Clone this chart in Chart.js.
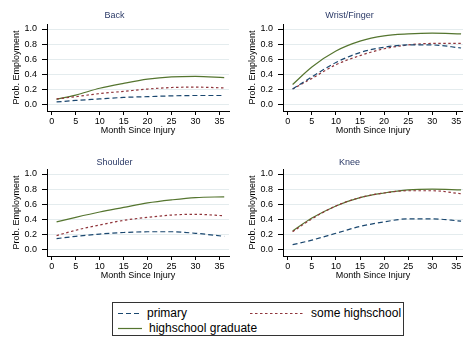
<!DOCTYPE html>
<html>
<head>
<meta charset="utf-8">
<script src="https://cdn.jsdelivr.net/npm/chart.js@4.4.1/dist/chart.umd.min.js"></script>
<style>
  html, body { margin: 0; padding: 0; background: #fff; }
  #wrap { position: relative; width: 463px; height: 337px; overflow: hidden; font-family: "Liberation Sans", Arial, sans-serif; }
  .panel { position: absolute; }
  #legend { position: absolute; left: 112px; top: 302px; width: 290px; height: 32px; border: 1px solid #333; box-sizing: content-box; }
  .key { position: absolute; font-size: 12px; color: #000; line-height: 14px; white-space: nowrap; }
  .key svg { position: absolute; left: 0; top: 0; }
</style>
</head>
<body>
<div id="wrap">
  <div class="panel" style="left:0;top:0;width:231px;height:140px"><canvas id="c0"></canvas></div>
  <div class="panel" style="left:236px;top:0;width:227px;height:140px"><canvas id="c1"></canvas></div>
  <div class="panel" style="left:0;top:145px;width:231px;height:140px"><canvas id="c2"></canvas></div>
  <div class="panel" style="left:236px;top:145px;width:227px;height:140px"><canvas id="c3"></canvas></div>
  <div id="legend"></div>
</div>
<script>
const months = [1, 5, 10, 15, 20, 25, 30, 36];

const panelTitles = ["Back", "Wrist/Finger", "Shoulder", "Knee"];
const seriesNames = ["primary", "some highschool", "highschool graduate"];

const backPrimary   = [0.04, 0.06, 0.08, 0.10, 0.11, 0.12, 0.125, 0.125];
const backSomeHs    = [0.08, 0.11, 0.15, 0.18, 0.21, 0.23, 0.235, 0.225];
const backGrad      = [0.075, 0.13, 0.22, 0.285, 0.34, 0.37, 0.377, 0.36];

const wristPrimary  = [0.21, 0.37, 0.56, 0.69, 0.76, 0.79, 0.79, 0.75];
const wristSomeHs   = [0.21, 0.35, 0.53, 0.65, 0.74, 0.79, 0.81, 0.81];
const wristGrad     = [0.27, 0.50, 0.71, 0.84, 0.91, 0.935, 0.945, 0.935];

const shoulderPrimary = [0.15, 0.18, 0.21, 0.23, 0.24, 0.24, 0.22, 0.18];
const shoulderSomeHs  = [0.19, 0.26, 0.33, 0.39, 0.43, 0.46, 0.47, 0.45];
const shoulderGrad    = [0.37, 0.43, 0.50, 0.56, 0.62, 0.66, 0.69, 0.70];

const kneePrimary   = [0.07, 0.13, 0.22, 0.31, 0.37, 0.41, 0.41, 0.38];
const kneeSomeHs    = [0.24, 0.41, 0.58, 0.69, 0.75, 0.78, 0.78, 0.74];
const kneeGrad      = [0.25, 0.42, 0.58, 0.69, 0.75, 0.79, 0.80, 0.79];

const xTicks = [0, 5, 10, 15, 20, 25, 30, 35];
const yTicks = [0, 0.2, 0.4, 0.6, 0.8, 1.0];

const panelData = [
  [backPrimary, backSomeHs, backGrad],
  [wristPrimary, wristSomeHs, wristGrad],
  [shoulderPrimary, shoulderSomeHs, shoulderGrad],
  [kneePrimary, kneeSomeHs, kneeGrad],
];

// Stata s2color-ish styling
const colors = ["#1a476f", "#90353b", "#55752f"];
const dashes = [[5, 3], [2.5, 2.5], []];
const FONT = "'Liberation Sans', Arial, sans-serif";

function makeChart(id, idx, xMax, w, bottomRow) {
  const canvas = document.getElementById(id);
  canvas.width = w;
  canvas.height = 140;
  canvas.style.width = w + "px";
  canvas.style.height = "140px";
  const datasets = panelData[idx].map((vals, i) => ({
    label: seriesNames[i],
    data: months.map((m, k) => ({ x: m, y: vals[k] })),
    borderColor: colors[i],
    borderDash: dashes[i],
    borderWidth: 1.2,
    pointRadius: 0,
    fill: false,
    cubicInterpolationMode: "monotone",
  }));
  return new Chart(canvas.getContext("2d"), {
    type: "line",
    data: { datasets },
    options: {
      responsive: false,
      animation: false,
      layout: { padding: { left: 0, right: w > 230 ? 2 : 0, top: 0, bottom: 0 } },
      plugins: {
        legend: { display: false },
        tooltip: { enabled: false },
        title: {
          display: true,
          text: panelTitles[idx],
          color: "#2b3a67",
          font: { family: FONT, size: 9, weight: "normal", lineHeight: 1.2 },
          padding: bottomRow ? { top: 12, bottom: 1.2 } : { top: 10.6, bottom: 2.6 },
        },
      },
      scales: {
        x: {
          type: "linear",
          min: -1,
          max: xMax,
          afterBuildTicks: (s) => { s.ticks = xTicks.map((v) => ({ value: v })); },
          afterFit: (s) => { s.height = 29; },
          grid: { drawOnChartArea: false, tickLength: 4, tickColor: "#000" },
          border: { color: "#000", width: 1 },
          ticks: { color: "#000", padding: 1, maxRotation: 0, font: { family: FONT, size: 9 } },
          title: {
            display: true,
            text: "Month Since Injury",
            color: "#000",
            font: { family: FONT, size: 9, lineHeight: 1.2 },
            padding: { top: 0, bottom: 4.4 },
          },
        },
        y: {
          min: -0.079,
          max: 1.066,
          afterBuildTicks: (s) => { s.ticks = yTicks.map((v) => ({ value: v })); },
          afterFit: (s) => { s.width = 47; },
          grid: { color: "#e4ecee", tickLength: 5, tickColor: "#000" },
          border: { color: "#000", width: 1 },
          ticks: {
            color: "#000",
            padding: 5,
            font: { family: FONT, size: 9 },
            callback: (v) => Number(v).toFixed(1),
          },
          title: {
            display: true,
            text: "Prob. Employment",
            color: "#000",
            font: { family: FONT, size: 9, lineHeight: 1.2 },
            padding: { top: 11.6, bottom: 0 },
          },
        },
      },
    },
  });
}

makeChart("c0", 0, 37, 231, false);
makeChart("c1", 1, 36.4, 227, false);
makeChart("c2", 2, 37, 231, true);
makeChart("c3", 3, 36.4, 227, true);

// legend box (real text, line samples as small svgs)
const legendItems = [
  { name: seriesNames[0], i: 0, left: 5, top: 3, len: 22 },
  { name: seriesNames[1], i: 1, left: 137, top: 3, len: 54 },
  { name: seriesNames[2], i: 2, left: 5, top: 18, len: 24 },
];
const legend = document.getElementById("legend");
legendItems.forEach((it) => {
  const d = document.createElement("div");
  d.className = "key";
  d.style.left = it.left + "px";
  d.style.top = it.top + "px";
  d.style.paddingLeft = (it.len + 7) + "px";
  const dash = dashes[it.i].length ? `stroke-dasharray="${dashes[it.i].join(",")}"` : "";
  d.innerHTML = `<svg width="${it.len}" height="14"><line x1="0" y1="7.5" x2="${it.len}" y2="7.5" stroke="${colors[it.i]}" stroke-width="1.2" ${dash}/></svg>${it.name}`;
  legend.appendChild(d);
});
</script>
</body>
</html>
